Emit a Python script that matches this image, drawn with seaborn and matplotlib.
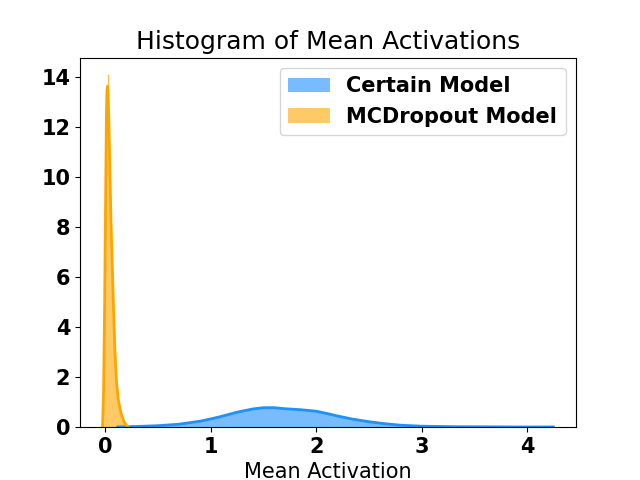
import numpy as np
import pandas as pd
import seaborn as sns
import matplotlib.pyplot as plt
from matplotlib.patches import Patch

# density curves
certain_x = [0.12, 0.3, 0.5, 0.7, 0.9, 1.0, 1.1, 1.25, 1.4, 1.5, 1.6, 1.7, 1.85, 2.0, 2.1,
             2.2, 2.35, 2.5, 2.65, 2.8, 3.0, 3.3, 3.6, 3.9, 4.25]
certain_y = [0.01, 0.03, 0.06, 0.12, 0.24, 0.33, 0.43, 0.6, 0.73, 0.78, 0.78, 0.74, 0.70, 0.64, 0.55,
             0.45, 0.32, 0.22, 0.14, 0.08, 0.04, 0.02, 0.015, 0.01, 0.01]

mcd_x = [-0.025, -0.015, -0.005, 0.005, 0.012, 0.017, 0.022, 0.027, 0.035, 0.045, 0.055, 0.063,
         0.078, 0.092, 0.108, 0.125, 0.15, 0.18, 0.2, 0.22]
mcd_y = [0.0, 1.5, 5.0, 9.5, 12.6, 13.5, 13.64, 13.4, 12.2, 10.2, 8.2, 7.1,
         4.9, 3.1, 1.76, 1.08, 0.56, 0.2, 0.08, 0.0]
# thin spike above the orange peak
spike_x = [0.022, 0.022]
spike_y = [13.6, 14.08]

labels = ['Certain Model', 'MCDropout Model']
colors = ['dodgerblue', 'orange']

df = pd.concat([
    pd.DataFrame({'x': certain_x, 'density': certain_y, 'model': labels[0]}),
    pd.DataFrame({'x': mcd_x, 'density': mcd_y, 'model': labels[1]}),
])

fig, ax = plt.subplots(figsize=(6.4, 4.8), dpi=100)
sns.lineplot(data=df, x='x', y='density', hue='model', palette=colors,
             linewidth=2, legend=False, ax=ax, sort=False)
for lab, c in zip(labels, colors):
    sub = df[df.model == lab]
    ax.fill_between(sub.x, 0, sub.density, color=c, alpha=0.6, linewidth=0)
ax.plot(spike_x, spike_y, color='orange', linewidth=1, alpha=0.7)

ax.set_ylim(bottom=0)
ax.set_title('Histogram of Mean Activations', fontsize=18)
ax.set_xlabel('Mean Activation', fontsize=15)
ax.set_ylabel('')
ax.tick_params(labelsize=15)
for t in ax.get_xticklabels() + ax.get_yticklabels():
    t.set_fontweight('bold')

handles = [Patch(facecolor=c, alpha=0.6, edgecolor='none') for c in colors]
ax.legend(handles, labels, loc='upper right', prop={'size': 15, 'weight': 'bold'})

plt.savefig('out.png', dpi=100)
